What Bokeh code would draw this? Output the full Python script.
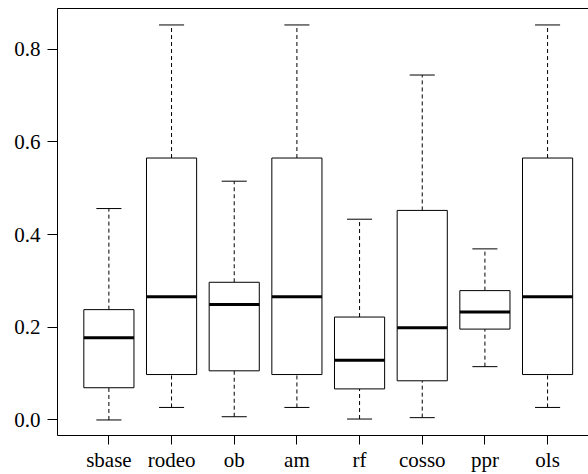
from bokeh.plotting import figure
from bokeh.models import FixedTicker, PrintfTickFormatter, LinearAxis, Range1d, ColumnDataSource
from bokeh.embed import file_html
from bokeh.resources import INLINE

categories = ["sbase", "rodeo", "ob", "am", "rf", "cosso", "ppr", "ols"]
lower_whisker = [0.000, 0.027, 0.007, 0.027, 0.002, 0.005, 0.115, 0.027]
q1 = [0.0695, 0.098, 0.106, 0.098, 0.067, 0.0845, 0.196, 0.098]
median = [0.1775, 0.266, 0.249, 0.266, 0.129, 0.199, 0.233, 0.266]
q3 = [0.238, 0.565, 0.297, 0.565, 0.222, 0.452, 0.279, 0.565]
upper_whisker = [0.456, 0.852, 0.515, 0.852, 0.433, 0.744, 0.369, 0.852]
y_ticks = [0.0, 0.2, 0.4, 0.6, 0.8]

pos = list(range(1, len(categories) + 1))
box_w = 0.8
cap_w = 0.4

src = ColumnDataSource(dict(
    x=pos,
    left=[x - box_w / 2 for x in pos], right=[x + box_w / 2 for x in pos],
    cl=[x - cap_w / 2 for x in pos], cr=[x + cap_w / 2 for x in pos],
    lw=lower_whisker, q1=q1, med=median, q3=q3, uw=upper_whisker,
))

FONT = "Liberation Serif"
FS = "21px"

p = figure(width=588, height=474, output_backend="svg", toolbar_location=None,
           x_range=Range1d(0.18, 8.653), y_range=Range1d(-0.0335, 0.8875),
           min_border_left=57, min_border_right=0, min_border_top=8, min_border_bottom=37,
           x_axis_type=None, y_axis_type=None)
p.outline_line_color = None
p.xgrid.visible = False
p.ygrid.visible = False
p.background_fill_color = "white"
p.border_fill_color = "white"

# whiskers
p.segment(x0="x", y0="q3", x1="x", y1="uw", source=src, line_color="black", line_width=1, line_dash="4 3")
p.segment(x0="x", y0="lw", x1="x", y1="q1", source=src, line_color="black", line_width=1, line_dash="4 3")
# caps
p.segment(x0="cl", y0="uw", x1="cr", y1="uw", source=src, line_color="black", line_width=1)
p.segment(x0="cl", y0="lw", x1="cr", y1="lw", source=src, line_color="black", line_width=1)
# boxes
p.quad(left="left", right="right", bottom="q1", top="q3", source=src,
       fill_color="white", line_color="black", line_width=1)
# medians
p.segment(x0="left", y0="med", x1="right", y1="med", source=src, line_color="black", line_width=3)

# axes
yax = LinearAxis(ticker=FixedTicker(ticks=y_ticks), formatter=PrintfTickFormatter(format="%.1f"),
                 major_label_text_font=FONT, major_label_text_font_size=FS)
xax = LinearAxis(ticker=FixedTicker(ticks=pos),
                 major_label_overrides={x: c for x, c in zip(pos, categories)},
                 major_label_text_font=FONT, major_label_text_font_size=FS)
for ax in (yax, xax):
    ax.axis_line_color = "black"
    ax.axis_line_width = 1
    ax.major_tick_line_color = "black"
    ax.major_tick_line_width = 1
    ax.major_tick_in = 0
    ax.minor_tick_line_color = None
    ax.major_label_text_color = "black"
yax.major_tick_out = 10
yax.major_label_standoff = 7
xax.major_tick_out = 9
xax.major_label_standoff = 3
p.add_layout(yax, "left")
p.add_layout(xax, "below")

top = LinearAxis(ticker=FixedTicker(ticks=[]), axis_line_color="black", axis_line_width=1,
                 major_tick_line_color=None, minor_tick_line_color=None,
                 major_label_text_font_size="0px")
p.add_layout(top, "above")

open("out.html", "w").write(file_html(p, INLINE))
